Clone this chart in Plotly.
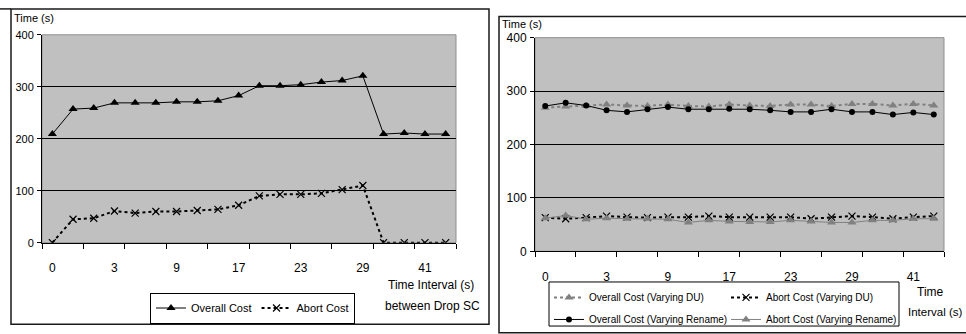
import plotly.graph_objects as go

W, H = 966, 334
FONT = "Liberation Sans, Arial, sans-serif"

# 20 drop intervals on a category axis, labelled every third one
categories = list(range(20))
tick_positions = [0, 3, 6, 9, 12, 15, 18]
tick_labels = ["0", "3", "9", "17", "23", "29", "41"]
y_ticks = [0, 100, 200, 300, 400]

# Drop SC experiment
overall_cost = [209, 257, 259, 269, 269, 269, 271, 271, 273, 283,
                302, 302, 304, 309, 312, 321, 209, 211, 209, 209]
abort_cost = [0, 45, 47, 61, 57, 60, 60, 62, 64, 72,
              90, 93, 93, 95, 102, 110, 0, 0, 0, 0]

# Varying DU / Rename experiment
overall_du = [269, 271, 272, 275, 273, 272, 275, 272, 271, 275,
              273, 272, 275, 275, 272, 276, 276, 273, 276, 273]
abort_du = [63, 61, 63, 66, 64, 63, 64, 64, 66, 64,
            64, 64, 64, 61, 64, 66, 64, 61, 64, 66]
overall_rename = [272, 278, 273, 264, 261, 266, 270, 266, 266, 267,
                  266, 264, 261, 261, 266, 261, 261, 256, 260, 256]
abort_rename = [62, 67, 60, 62, 61, 61, 60, 54, 58, 56,
                55, 55, 58, 56, 54, 54, 58, 58, 61, 61]


def px(x):
    return x / W


def py(y):
    return 1 - y / H


def x_axis(left, right, anchor, standoff, size):
    return dict(
        domain=[px(left), px(right)], anchor=anchor, range=[-0.5, 19.5],
        tickmode="array", tickvals=tick_positions, ticktext=tick_labels,
        ticks="", ticklabelstandoff=standoff,
        tickfont=dict(family=FONT, size=size, color="black"),
        showline=True, linecolor="black", linewidth=1,
        showgrid=False, zeroline=False,
        minor=dict(tickmode="array",
                   tickvals=[i - 0.5 for i in range(0, 21, 2)],
                   ticks="outside", ticklen=5, tickcolor="black",
                   tickwidth=1, showgrid=False),
    )


def y_axis(top, bottom, anchor, size):
    return dict(
        domain=[py(bottom), py(top)], anchor=anchor, range=[0, 400],
        tickmode="array", tickvals=y_ticks,
        ticks="outside", ticklen=4, tickcolor="black", ticklabelstandoff=1,
        tickfont=dict(family=FONT, size=size, color="black"),
        showline=True, linecolor="black", linewidth=1,
        showgrid=False, zeroline=False,
        minor=dict(tickmode="array", tickvals=[100, 200, 300], ticks="",
                   showgrid=True, gridcolor="black", gridwidth=1),
    )


fig = go.Figure()

# Left panel
fig.add_trace(go.Scatter(
    x=categories, y=overall_cost, name="Overall Cost", mode="lines+markers",
    line=dict(color="black", width=1),
    marker=dict(symbol="triangle-up", size=8, color="black"),
    xaxis="x", yaxis="y", legend="legend"))
fig.add_trace(go.Scatter(
    x=categories, y=abort_cost, name="Abort Cost", mode="lines+markers",
    line=dict(color="black", width=2, dash="dot"),
    marker=dict(symbol="x-thin", size=7, color="black",
                line=dict(color="black", width=1.2)),
    xaxis="x", yaxis="y", legend="legend"))

# Right panel
fig.add_trace(go.Scatter(
    x=categories, y=overall_du, name="Overall Cost (Varying DU)",
    mode="lines+markers",
    line=dict(color="#808080", width=2, dash="dot"),
    marker=dict(symbol="triangle-up", size=8, color="#808080"),
    xaxis="x2", yaxis="y2", legend="legend2"))
fig.add_trace(go.Scatter(
    x=categories, y=abort_du, name="Abort Cost (Varying DU)",
    mode="lines+markers",
    line=dict(color="black", width=2, dash="dot"),
    marker=dict(symbol="x-thin", size=7, color="black",
                line=dict(color="black", width=1.2)),
    xaxis="x2", yaxis="y2", legend="legend2"))
fig.add_trace(go.Scatter(
    x=categories, y=overall_rename, name="Overall Cost (Varying Rename)",
    mode="lines+markers",
    line=dict(color="black", width=1),
    marker=dict(symbol="circle", size=6, color="black"),
    xaxis="x2", yaxis="y2", legend="legend3"))
fig.add_trace(go.Scatter(
    x=categories, y=abort_rename, name="Abort Cost (Varying Rename)",
    mode="lines+markers",
    line=dict(color="#808080", width=1),
    marker=dict(symbol="triangle-up", size=8, color="#808080"),
    xaxis="x2", yaxis="y2", legend="legend3"))

legend_common = dict(orientation="h", xanchor="left", yanchor="top",
                     itemwidth=30, tracegroupgap=0, itemclick=False)

shapes = []
# outer frames
frame = dict(color="#1a1a1a", width=1.5)
shapes += [
    dict(type="rect", xref="paper", yref="paper",
         x0=px(11), x1=px(489), y0=py(331), y1=py(2), line=frame),
    dict(type="line", xref="paper", yref="paper",
         x0=px(0), x1=px(11), y0=py(2), y1=py(2), line=frame),
    dict(type="rect", xref="paper", yref="paper",
         x0=px(499), x1=px(970), y0=py(340), y1=py(10), line=frame),
    # right legend box
    dict(type="rect", xref="paper", yref="paper",
         x0=px(549), x1=px(899), y0=py(333), y1=py(287),
         fillcolor="white", line=dict(color="black", width=1)),
]
# thin grey edge round each plotting area
for xa, ya in (("x", "y"), ("x2", "y2")):
    shapes.append(dict(type="rect", xref=f"{xa} domain", yref=f"{ya} domain",
                       x0=0, x1=1, y0=0, y1=1, layer="below",
                       line=dict(color="#8f8f8f", width=1)))

txt = dict(family=FONT, color="black")
annotations = [
    dict(text="Time (s)", x=px(12), y=py(12), xanchor="left", yanchor="middle",
         font=dict(size=11, **txt)),
    dict(text="Time Interval (s)", x=px(431), y=py(290), xanchor="center",
         yanchor="middle", font=dict(size=12, **txt)),
    dict(text="between Drop SC", x=px(432), y=py(312), xanchor="center",
         yanchor="middle", font=dict(size=12, **txt)),
    dict(text="Time (s)", x=px(500), y=py(18), xanchor="left", yanchor="middle",
         font=dict(size=11, **txt)),
    dict(text="Time", x=px(930), y=py(297), xanchor="center",
         yanchor="middle", font=dict(size=12, **txt)),
    dict(text="Interval (s)", x=px(964), y=py(318), xanchor="right",
         yanchor="middle", font=dict(size=11.5, **txt)),
]
for a in annotations:
    a.update(xref="paper", yref="paper", showarrow=False)

fig.update_layout(
    width=W, height=H, margin=dict(l=0, r=0, t=0, b=0),
    paper_bgcolor="white", plot_bgcolor="#c0c0c0",
    showlegend=True,
    xaxis=x_axis(42, 456, "y", 14, 12),
    yaxis=y_axis(29, 246, "x", 11),
    xaxis2=x_axis(535, 944, "y2", 14, 12),
    yaxis2=y_axis(32, 255, "x2", 12),
    legend=dict(x=px(150), y=py(298), bordercolor="black", borderwidth=1,
                bgcolor="white", font=dict(family=FONT, size=11, color="black"),
                **legend_common),
    legend2=dict(x=px(549), y=py(288), entrywidth=132, bgcolor="rgba(0,0,0,0)",
                 font=dict(family=FONT, size=10, color="black"),
                 **legend_common),
    legend3=dict(x=px(549), y=py(311), entrywidth=132, bgcolor="rgba(0,0,0,0)",
                 font=dict(family=FONT, size=10, color="black"),
                 **legend_common),
    shapes=shapes, annotations=annotations,
)

fig.write_html("out.html")
